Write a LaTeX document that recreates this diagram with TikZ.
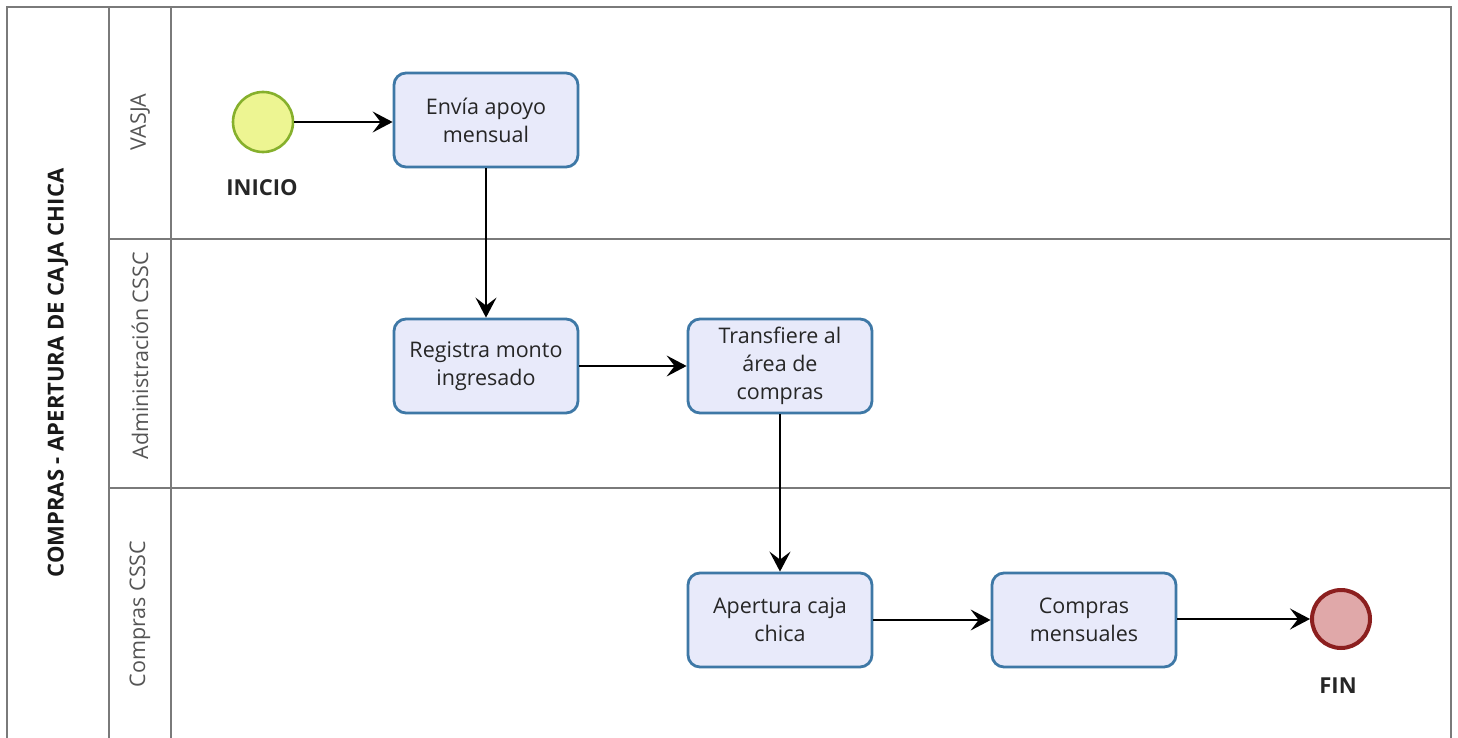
\documentclass[tikz,border=0pt]{standalone}
\usepackage{fontspec}
\setmainfont{Open Sans}
\usetikzlibrary{arrows.meta}
\definecolor{lanegray}{HTML}{7A7A7A}
\definecolor{taskfill}{HTML}{E8EAFA}
\definecolor{taskline}{HTML}{3E78A6}
\definecolor{startfill}{HTML}{EDF592}
\definecolor{startline}{HTML}{86B02C}
\definecolor{endfill}{HTML}{E0A8A9}
\definecolor{endline}{HTML}{8C1F1F}
\definecolor{labelgray}{HTML}{555555}
\tikzset{
  lanebox/.style={draw=lanegray, line width=1.6pt},
  task/.style={draw=taskline, fill=taskfill, line width=2.8pt, rounded corners=12pt,
    minimum width=184pt, minimum height=94pt, align=center, font=\fontsize{21.5}{28}\selectfont, text=black!85},
  startev/.style={circle, draw=startline, fill=startfill, line width=2.6pt, minimum size=60pt, inner sep=0pt},
  endev/.style={circle, draw=endline, fill=endfill, line width=4pt, minimum size=58pt, inner sep=0pt},
  evlabel/.style={font=\fontsize{22}{26}\selectfont\bfseries, text=black!85},
  lanelabel/.style={rotate=90, font=\fontsize{21.5}{26}\selectfont, text=labelgray},
  flow/.style={-{Stealth[length=20pt, width=21pt, inset=8pt]}, line width=1.9pt, black},
}
\begin{document}
\begin{tikzpicture}[x=1pt, y=-1pt]
\useasboundingbox (0,0) rectangle (1458,738);
\fill[white] (0,0) rectangle (1458,738);
\begin{scope}
\clip (0,0) rectangle (1458,738);
% pool and lanes
\draw[lanebox] (7,7) rectangle (1451,760);
\draw[lanebox] (109,7) -- (109,760);
\draw[lanebox] (171,7) -- (171,760);
\draw[lanebox] (109,239) -- (1451,239);
\draw[lanebox] (109,488) -- (1451,488);
\end{scope}
% pool and lane titles
\node[rotate=90, font=\fontsize{22}{26}\selectfont\bfseries, text=black!90] (pool) at (58,373) {COMPRAS - APERTURA DE CAJA CHICA};
\node[lanelabel] (l1) at (140,122) {VASJA};
\node[lanelabel] (l2) at (140,356) {Administración CSSC};
\node[lanelabel] (l3) at (140,614) {Compras CSSC};
% events
\node[startev] (start) at (263,122) {};
\node[evlabel] (startlbl) at (262,188) {INICIO};
\node[endev] (fin) at (1341,619) {};
\node[evlabel] (finlbl) at (1338,686) {FIN};
% tasks
\node[task] (t1) at (486,120) {Envía apoyo\\mensual};
\node[task] (t2) at (486,366) {Registra monto\\ingresado};
\node[task] (t3) at (780,366) {Transfiere al\\área de\\compras};
\node[task] (t4) at (780,620) {Apertura caja\\chica};
\node[task] (t5) at (1084,620) {Compras\\mensuales};
% sequence flows
\draw[flow] (start.east) -- (start.east -| t1.west);
\draw[flow] (t1) -- (t2);
\draw[flow] (t2) -- (t3);
\draw[flow] (t3) -- (t4);
\draw[flow] (t4) -- (t5);
\draw[flow] (t5.east |- fin) -- (fin.west);
\end{tikzpicture}
\end{document}
